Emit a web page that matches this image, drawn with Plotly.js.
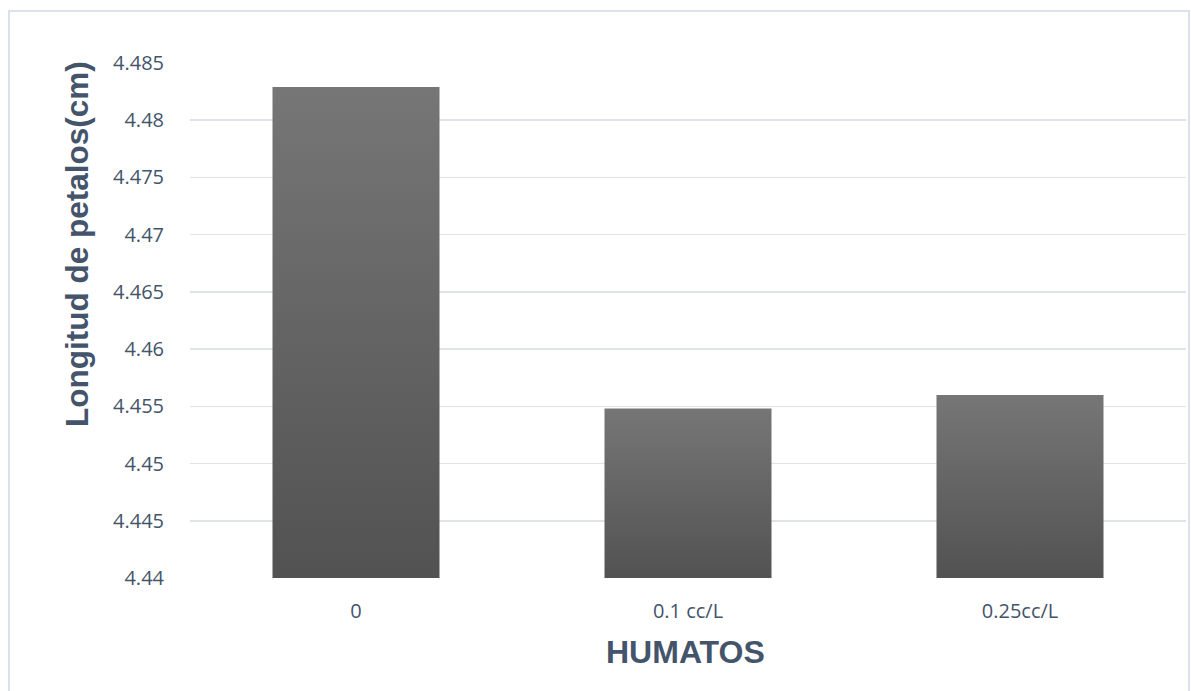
<!DOCTYPE html>
<html>
<head>
<meta charset="utf-8">
<script src="https://cdn.plot.ly/plotly-3.0.1.min.js"></script>
<style>
  html, body { margin: 0; padding: 0; background: #ffffff; }
  #chart { width: 1191px; height: 691px; }
</style>
</head>
<body>
<div id="chart"></div>
<script>
const categories = ["0", "0.1 cc/L", "0.25cc/L"];
const values = [4.4829, 4.4548, 4.4560];
const yTicks = [4.44, 4.445, 4.45, 4.455, 4.46, 4.465, 4.47, 4.475, 4.48, 4.485];
const yTickLabels = ["4.44", "4.445", "4.45", "4.455", "4.46", "4.465", "4.47", "4.475", "4.48", "4.485"];
const xTitle = "HUMATOS";
const yTitle = "Longitud de petalos(cm)";

const textColor = "#44546a";
const gridColor = "#e0e3ea";
const W = 1191, H = 691;
const M = { l: 190, r: 5, t: 63, b: 113 };
const plotW = W - M.l - M.r, plotH = H - M.t - M.b;

const trace = {
  type: "bar",
  x: categories,
  y: values,
  width: 0.503,
  marker: { color: "#646464", line: { width: 0 } },
  hoverinfo: "x+y"
};

const layout = {
  width: W,
  height: H,
  margin: { l: M.l, r: M.r, t: M.t, b: M.b, pad: 0 },
  paper_bgcolor: "#ffffff",
  plot_bgcolor: "#ffffff",
  showlegend: false,
  xaxis: {
    type: "category",
    showgrid: false,
    zeroline: false,
    showline: false,
    ticks: "",
    ticklabelstandoff: 19,
    tickfont: { family: "Open Sans, sans-serif", size: 20, color: textColor }
  },
  yaxis: {
    range: [4.44, 4.485],
    tickvals: yTicks,
    ticktext: yTickLabels,
    showgrid: true,
    gridcolor: gridColor,
    gridwidth: 1.5,
    zeroline: false,
    showline: false,
    ticks: "",
    ticklabelstandoff: 25,
    tickfont: { family: "Open Sans, sans-serif", size: 20, color: textColor }
  },
  annotations: [
    {
      text: "<b>" + yTitle + "</b>",
      xref: "paper", yref: "paper",
      x: (77 - M.l) / plotW, y: (H - M.b - 244) / plotH,
      xanchor: "center", yanchor: "middle",
      textangle: -90, showarrow: false,
      font: { family: "Liberation Sans, Arial, sans-serif", size: 31.5, color: textColor }
    },
    {
      text: "<b>" + xTitle + "</b>",
      xref: "paper", yref: "paper",
      x: (685 - M.l) / plotW, y: (H - M.b - 652) / plotH,
      xanchor: "center", yanchor: "middle",
      showarrow: false,
      font: { family: "Liberation Sans, Arial, sans-serif", size: 32, color: textColor }
    }
  ],
  shapes: [
    {
      type: "rect", xref: "paper", yref: "paper",
      x0: (9 - M.l) / plotW, x1: (1189 - M.l) / plotW,
      y0: -0.5, y1: (H - M.b - 11) / plotH,
      line: { color: "#dde2ea", width: 2 },
      fillcolor: "rgba(0,0,0,0)",
      layer: "below"
    }
  ]
};

Plotly.newPlot("chart", [trace], layout, { displayModeBar: false, staticPlot: true }).then(function (gd) {
  const svg = gd.querySelector("svg.main-svg");
  const ns = "http://www.w3.org/2000/svg";
  let defs = svg.querySelector("defs");
  if (!defs) { defs = document.createElementNS(ns, "defs"); svg.insertBefore(defs, svg.firstChild); }
  const ya = gd._fullLayout.yaxis;
  const bottomPx = ya._length;
  gd.querySelectorAll(".bars .point path").forEach(function (p, i) {
    const topPx = ya.l2p(values[i]);
    const grad = document.createElementNS(ns, "linearGradient");
    grad.setAttribute("id", "barGrad" + i);
    grad.setAttribute("gradientUnits", "userSpaceOnUse");
    grad.setAttribute("x1", "0"); grad.setAttribute("y1", String(topPx));
    grad.setAttribute("x2", "0"); grad.setAttribute("y2", String(bottomPx));
    const s1 = document.createElementNS(ns, "stop");
    s1.setAttribute("offset", "0"); s1.setAttribute("stop-color", "#767676");
    const s2 = document.createElementNS(ns, "stop");
    s2.setAttribute("offset", "1"); s2.setAttribute("stop-color", "#525252");
    grad.appendChild(s1); grad.appendChild(s2);
    defs.appendChild(grad);
    p.style.fill = "url(#barGrad" + i + ")";
  });
});
</script>
</body>
</html>
